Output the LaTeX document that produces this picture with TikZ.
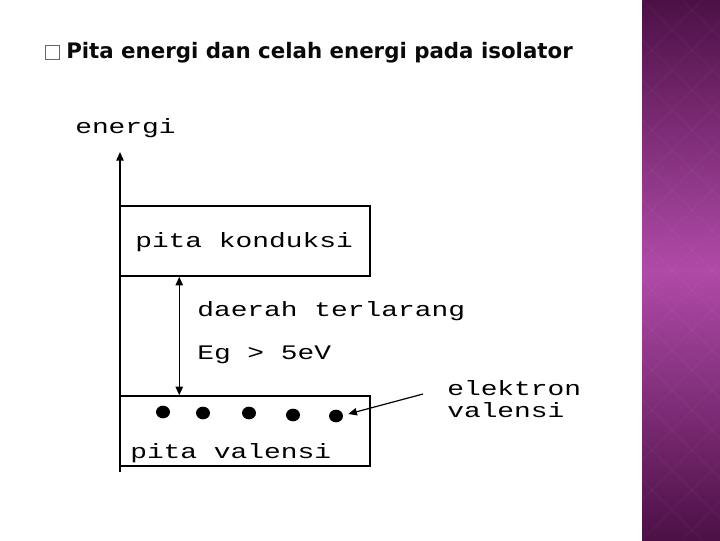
\documentclass[tikz,border=0pt]{standalone}
\usepackage{graphicx}
\usepackage{fontspec}
\setmainfont{DejaVu Sans}
\newfontfamily\couriermono{Liberation Mono}
\usetikzlibrary{calc, positioning}
\usetikzlibrary{arrows.meta}
\usetikzlibrary{shapes.geometric}

\definecolor{stripdark}{HTML}{4C1046}
\definecolor{stripmid}{HTML}{B04AA8}
\definecolor{bulletpurple}{HTML}{8A4C8C}
\definecolor{titleink}{HTML}{0A0A0A}

\newcommand{\cour}[1]{\scalebox{1.35}[1]{\couriermono\fontsize{15.5pt}{17pt}\selectfont #1}}

\tikzset{
  lbl/.style={inner sep=0pt, anchor=west, font=\couriermono},
  band/.style={draw, line width=1.1pt, minimum width=187.5pt, minimum height=52.5pt, inner sep=0pt},
  axisline/.style={line width=1.1pt, -{Triangle[length=6.5pt, width=5.5pt]}},
  gaparrow/.style={line width=1.1pt, {Triangle[length=6.5pt, width=5.5pt]}-{Triangle[length=6.5pt, width=5.5pt]}},
  pointer/.style={line width=0.9pt, -{Triangle[length=6.5pt, width=5.5pt]}},
  electron/.style={fill, ellipse, inner sep=0pt, minimum width=10.5pt, minimum height=9.5pt}
}

\begin{document}
\begin{tikzpicture}[x=0.75pt, y=-0.75pt]
\useasboundingbox (0,0) rectangle (720,540);
\def\stripx{642}
% side strip
\shade[top color=stripdark, bottom color=stripdark, middle color=stripmid] (\stripx,0) rectangle (720,540);
\begin{scope}
\clip (\stripx,0) rectangle (720,540);
\foreach \k in {-12,...,12} {
  \draw[white, opacity=0.035, line width=0.8pt] (\stripx+\k*40,0) -- ++(540,540);
  \draw[white, opacity=0.035, line width=0.8pt] (\stripx+\k*40+540,0) -- ++(-540,540);
}
\end{scope}
% title
\node[draw=bulletpurple, line width=0.6pt, minimum size=10.5pt, inner sep=0pt] (bullet) at (52,52) {};
\node[anchor=base west, inner sep=0pt, text=titleink, font=\bfseries\fontsize{16pt}{18pt}\selectfont] (title) at (66,58) {Pita energi dan celah energi pada isolator};
% bands
\node[band] (konduksi) at (245,241) {};
\node[band] (valensi) at (245,431) {};
\coordinate (axisbot) at (120,472);
\coordinate (axistop) at (120,152);
\draw[axisline] (axisbot) -- (axistop);
\node[lbl] (energi) at (75,128) {\cour{energi}};
\node[lbl] (lkonduksi) at (135,242) {\cour{pita konduksi}};
\node[lbl] (lvalensi) at (130,453) {\cour{pita valensi}};
\draw[gaparrow] ($(konduksi.south west)+(60,0)$) -- ($(valensi.north west)+(60,0)$);
\node[lbl] (daerah) at (197,311) {\cour{daerah terlarang}};
\node[lbl] (eg) at (197,355) {\cour{Eg > 5eV}};
% electrons
\foreach \ex/\ey [count=\i] in {163/412, 203/413, 249/413, 293/415, 336/416}
  \node[electron] (e\i) at (\ex,\ey) {};
\node[lbl] (elektron) at (447,388) {\cour{elektron}};
\node[lbl] (valtxt) at (447,410) {\cour{valensi}};
\coordinate (ptrstart) at (423,394);
\draw[pointer] (ptrstart) -- ($(e5.east)+(5,-2)$);
\end{tikzpicture}
\end{document}
